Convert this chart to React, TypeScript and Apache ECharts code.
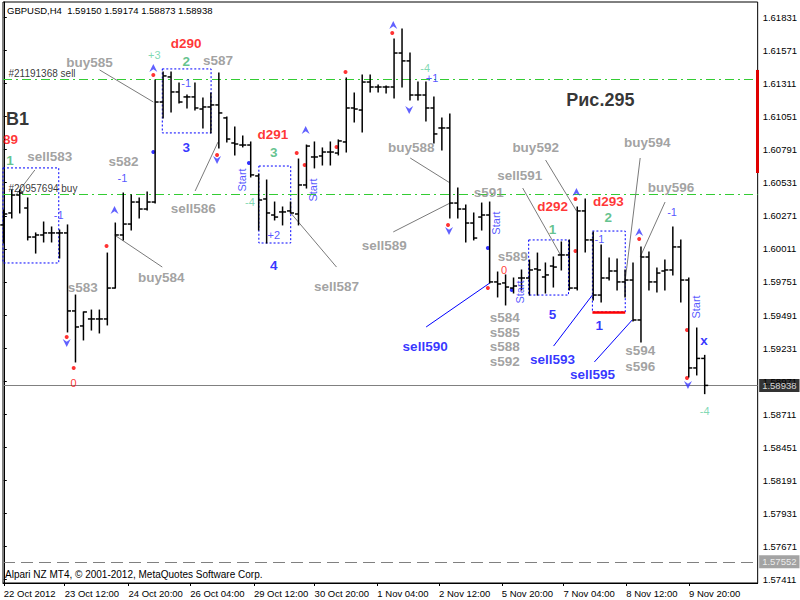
import React, { useEffect, useRef } from "react";
import * as echarts from "echarts";

// ---- OHLC bars (GBPUSD, H4) ----
const opens = [
  1.60199, 1.60293, 1.60434, 1.60332, 1.60104, 1.6012, 1.60136, 1.60136, 1.60136, 1.59523,
  1.59405, 1.5946, 1.5946, 1.5946, 1.59703, 1.6012, 1.60206, 1.60379, 1.60324, 1.60379,
  1.61165, 1.61362, 1.61244, 1.61205, 1.61205, 1.6111, 1.61126, 1.61142, 1.6104, 1.60843,
  1.60827, 1.60827, 1.60584, 1.60403, 1.60277, 1.60301, 1.60309, 1.60285, 1.60513, 1.60733,
  1.60741, 1.60772, 1.60764, 1.60851, 1.61118, 1.61102, 1.61322, 1.61283, 1.61283, 1.61283,
  1.6155, 1.61488, 1.6122, 1.6122, 1.61118, 1.60961, 1.60961, 1.60371, 1.60324, 1.60214,
  1.60261, 1.60277, 1.59751, 1.59743, 1.59703, 1.59782, 1.59782, 1.59853, 1.5979, 1.59876,
  1.59963, 1.59963, 1.59703, 1.60309, 1.60081, 1.59648, 1.59782, 1.59837, 1.59751, 1.59766,
  1.59452, 1.59947, 1.59751, 1.59837, 1.59845, 1.60026, 1.59766, 1.59075, 1.5915,
];
const highs = [
  1.60316, 1.60474, 1.60474, 1.60411, 1.60136, 1.60222, 1.60183, 1.60159, 1.60199, 1.59648,
  1.59515, 1.5953, 1.5953, 1.59978, 1.60214, 1.6045, 1.60434, 1.60411, 1.60458, 1.61338,
  1.61401, 1.61401, 1.61315, 1.6122, 1.61315, 1.61197, 1.61236, 1.61393, 1.61047, 1.60969,
  1.60898, 1.60851, 1.60599, 1.60552, 1.60379, 1.6034, 1.60379, 1.60717, 1.60827, 1.60851,
  1.60804, 1.60851, 1.60867, 1.61354, 1.61236, 1.61377, 1.61377, 1.61299, 1.61291, 1.6166,
  1.61739, 1.6155, 1.61322, 1.61322, 1.61205, 1.6104, 1.61071, 1.60489, 1.60356, 1.60293,
  1.60371, 1.60379, 1.59829, 1.59806, 1.59782, 1.59845, 1.59923, 1.59978, 1.599, 1.59947,
  1.60065, 1.60081, 1.6034, 1.60403, 1.60144, 1.60041, 1.59939, 1.59931, 1.59845, 1.599,
  1.60026, 1.59986, 1.59861, 1.59923, 1.60183, 1.60081, 1.59782, 1.59389, 1.59174,
];
const lows = [
  1.60057, 1.60254, 1.60293, 1.60081, 1.59978, 1.60065, 1.60065, 1.59939, 1.59358, 1.59122,
  1.59295, 1.59373, 1.5935, 1.59413, 1.59703, 1.60081, 1.60159, 1.60254, 1.60316, 1.60371,
  1.6104, 1.61087, 1.61157, 1.61118, 1.61102, 1.60961, 1.60922, 1.60804, 1.60851, 1.60749,
  1.60812, 1.60576, 1.60159, 1.60057, 1.60238, 1.60199, 1.60293, 1.60199, 1.60489, 1.60647,
  1.6067, 1.6067, 1.60749, 1.60772, 1.61008, 1.60929, 1.61244, 1.61244, 1.61236, 1.61197,
  1.61283, 1.61181, 1.61181, 1.61016, 1.60843, 1.60788, 1.60254, 1.60254, 1.60065, 1.60081,
  1.60159, 1.59743, 1.59633, 1.5957, 1.59664, 1.59688, 1.59648, 1.59648, 1.59664, 1.59711,
  1.59845, 1.59688, 1.59688, 1.59986, 1.59609, 1.59593, 1.59766, 1.59688, 1.59633, 1.59444,
  1.59279, 1.59688, 1.59672, 1.59688, 1.59806, 1.59593, 1.59004, 1.5902, 1.58873,
];
const closes = [
  1.60285, 1.60434, 1.6045, 1.60104, 1.6012, 1.60136, 1.60136, 1.60136, 1.59523, 1.59397,
  1.59515, 1.5946, 1.5946, 1.59703, 1.6012, 1.60206, 1.60379, 1.60324, 1.60379, 1.61165,
  1.6137, 1.61244, 1.61165, 1.61205, 1.61118, 1.61126, 1.61142, 1.61079, 1.60874, 1.60835,
  1.60827, 1.60592, 1.60395, 1.60293, 1.60261, 1.60301, 1.60293, 1.60513, 1.60819, 1.60733,
  1.60772, 1.60772, 1.60859, 1.61118, 1.6111, 1.61322, 1.61283, 1.61283, 1.61283, 1.6155,
  1.61488, 1.6122, 1.6122, 1.61118, 1.60914, 1.60961, 1.60371, 1.60324, 1.60214, 1.60096,
  1.60277, 1.59751, 1.59735, 1.59711, 1.59719, 1.59782, 1.59845, 1.59845, 1.59806, 1.59868,
  1.59963, 1.59703, 1.60309, 1.60081, 1.59648, 1.59782, 1.59837, 1.59751, 1.59766, 1.59452,
  1.59947, 1.59751, 1.59821, 1.59845, 1.60026, 1.59766, 1.59075, 1.5915, 1.58938,
];

// ---- axes ----
const timeLabels = [
  "22 Oct 2012", "23 Oct 12:00", "24 Oct 20:00", "26 Oct 04:00", "29 Oct 12:00", "30 Oct 20:00",
  "1 Nov 04:00", "2 Nov 12:00", "5 Nov 20:00", "7 Nov 04:00", "8 Nov 12:00", "9 Nov 20:00",
];
const timeTickBars = [0, 7.65, 15.65, 23.4, 31.4, 39.025, 46.9, 54.65, 62.525, 70.275, 78.15, 86.025];
const priceTicks = [
  1.61831, 1.61571, 1.61311, 1.61051, 1.60791, 1.60531, 1.60271, 1.60011, 1.59751, 1.59491,
  1.59231, 1.58971, 1.58711, 1.58451, 1.58191, 1.57931, 1.57671, 1.57411,
];
const X_MIN = -0.1;
const X_MAX = 94.65;
const headerText = "GBPUSD,H4  1.59150 1.59174 1.58873 1.58938";
const footerText = "Alpari NZ MT4, © 2001-2012, MetaQuotes Software Corp.";
const currentPrice = 1.58938;
const lowLevel = 1.57552;
const orderLevels = [1.61346, 1.60442];

// ---- markers ----
const redDotBars = [18.775, 26.775, 36.775, 37.775, 41.775, 42.9, 48.775, 12.9, 7.9, 8.775, 55.775, 60.775, 71.775, 71.775, 79.775, 85.775, 85.775];
const redDotPrices = [1.61377, 1.60749, 1.60764, 1.6067, 1.60812, 1.61401, 1.61708, 1.60033, 1.59318, 1.59075, 1.60199, 1.59703, 1.60403, 1.59994, 1.60088, 1.59373, 1.58996];
const blueDotBars = [18.775, 30.775, 60.775, 63.775];
const blueDotPrices = [1.60772, 1.60686, 1.60018, 1.59688];
const upArrowBars = [18.775, 37.9, 48.9, 13.9, 71.9, 79.775];
const upArrowPrices = [1.61432, 1.60945, 1.6177, 1.60316, 1.60458, 1.60144];
const downArrowBars = [26.775, 50.9, 7.9, 55.9, 85.9];
const downArrowPrices = [1.60709, 1.61102, 1.59271, 1.60151, 1.58941];

// annotations: [bar position, price, text, kind]
const annotations: [number, number, string, string][] = [
  [74.9, 1.61181, "Рис.295", "big"],
  [1.71, 1.61032, "B1", "big"],
  [0.84, 1.60867, "89", "red"],
  [0.775, 1.60702, "1", "green"],
  [5.775, 1.60733, "sell583", "gray"],
  [0.525, 1.60489, "#20957694 buy", "note"],
  [0.525, 1.61393, "#21191368 sell", "note"],
  [15.025, 1.60694, "s582", "gray"],
  [14.9, 1.60568, "-1", "blueSm"],
  [6.9, 1.60277, "-1", "blueSm"],
  [10.775, 1.61472, "buy585", "gray"],
  [18.9, 1.61535, "+3", "aqua"],
  [22.9, 1.61621, "d290", "red"],
  [22.9, 1.6148, "2", "green"],
  [26.9, 1.61495, "s587", "gray"],
  [22.9, 1.61315, "-1", "blueSm"],
  [22.9, 1.60804, "3", "blue"],
  [23.775, 1.60332, "sell586", "gray"],
  [33.775, 1.60906, "d291", "red"],
  [33.9, 1.60772, "3", "green"],
  [29.9, 1.60552, "Start", "start"],
  [38.775, 1.60474, "Start", "start"],
  [30.9, 1.60379, "-4", "aqua"],
  [33.9, 1.6012, "+2", "blueSm"],
  [33.9, 1.59884, "4", "blue"],
  [41.775, 1.59719, "sell587", "gray"],
  [19.775, 1.59782, "buy584", "gray"],
  [9.9, 1.59711, "s583", "gray"],
  [8.775, 1.58957, "0", "redSm"],
  [51.15, 1.60804, "buy588", "gray"],
  [52.9, 1.61432, "-4", "aqua"],
  [53.775, 1.61354, "+1", "blueSm"],
  [47.775, 1.60041, "sell589", "gray"],
  [60.9, 1.6045, "s591", "gray"],
  [64.775, 1.60584, "sell591", "gray"],
  [66.775, 1.60804, "buy592", "gray"],
  [80.775, 1.60843, "buy594", "gray"],
  [83.775, 1.60497, "buy596", "gray"],
  [68.9, 1.6034, "d292", "red"],
  [75.9, 1.60387, "d293", "red"],
  [68.9, 1.60167, "1", "green"],
  [75.9, 1.60261, "2", "green"],
  [74.775, 1.60088, "-1", "blueSm"],
  [83.9, 1.60301, "-1", "blueSm"],
  [61.775, 1.60214, "Start", "start"],
  [64.775, 1.59672, "Start", "start"],
  [86.9, 1.59554, "Start", "start"],
  [63.9, 1.59947, "s589", "gray"],
  [62.8, 1.59845, "0", "redSm"],
  [62.9, 1.59468, "s584", "gray"],
  [62.9, 1.5935, "s585", "gray"],
  [62.9, 1.5924, "s588", "gray"],
  [62.9, 1.59122, "s592", "gray"],
  [68.9, 1.59499, "5", "blue"],
  [74.775, 1.59405, "1", "blue"],
  [52.9, 1.59247, "sell590", "blue"],
  [68.9, 1.59145, "sell593", "blue"],
  [73.9, 1.59027, "sell595", "blue"],
  [79.9, 1.59212, "s594", "gray"],
  [79.9, 1.5909, "s596", "gray"],
  [87.9, 1.59287, "x", "blue"],
  [88.0, 1.58737, "-4", "aqua"],
];

// connector lines: [bar1, price1, bar2, price2]
const grayConnectors: [number, number, number, number][] = [
  [12.025, 1.61417, 18.775, 1.61165],
  [3.9, 1.60631, 1.525, 1.60434],
  [24.025, 1.60466, 26.9, 1.60851],
  [13.9, 1.6012, 19.9, 1.59868],
  [36.025, 1.60293, 41.775, 1.59868],
  [51.025, 1.60725, 56.025, 1.60529],
  [48.9, 1.60144, 56.025, 1.60371],
  [65.15, 1.60489, 69.9, 1.59963],
  [68.025, 1.60709, 71.9, 1.60309],
  [79.9, 1.60725, 78.025, 1.59766],
  [83.025, 1.60379, 79.9, 1.59947],
];
const blueConnectors: [number, number, number, number][] = [
  [53.025, 1.59397, 61.025, 1.59743],
  [69.025, 1.59247, 73.9, 1.59648],
  [74.15, 1.59122, 78.9, 1.59452],
];
// dotted boxes: [bar1, price1, bar2, price2]
const boxes: [number, number, number, number][] = [
  [-0.1, 1.60647, 6.9, 1.599],
  [19.9, 1.61425, 26.025, 1.60922],
  [32.025, 1.60662, 36.025, 1.60057],
  [65.9, 1.60081, 70.9, 1.59648],
  [73.9, 1.60151, 78.025, 1.59515],
];
const redSegment: [number, number, number, number] = [73.9, 1.59515, 78.025, 1.59515];
const spreadBar: [number, number, number, number] = [94.6, 1.61417, 94.6, 1.60607];

const FONT = "'Liberation Sans', Arial, sans-serif";

const kindStyles: Record<string, any> = {
  gray: { color: "#8a8a8a", fontSize: 13.5, fontWeight: "bold" },
  red: { color: "#ff0000", fontSize: 13.5, fontWeight: "bold" },
  green: { color: "#3cb371", fontSize: 13.5, fontWeight: "bold" },
  blue: { color: "#0000ff", fontSize: 13.5, fontWeight: "bold" },
  blueSm: { color: "#2a2aff", fontSize: 11 },
  aqua: { color: "#5fcf9f", fontSize: 11 },
  redSm: { color: "#ff0000", fontSize: 11 },
  note: { color: "#000000", fontSize: 10, position: "right", distance: 0, align: "left" },
  start: { color: "#2a2aff", fontSize: 11, rotate: 90 },
  big: { color: "#000000", fontSize: 18, fontWeight: "bold" },
};

const ARROW = "path://M5,0 L10,10 L5,6.5 L0,10 Z";

export default function App() {
  const ref = useRef<HTMLDivElement>(null);
  useEffect(() => {
    document.body.style.margin = "0";
    if (!ref.current) return;
    const chart = echarts.init(ref.current, undefined, { renderer: "svg" });
    const barData = opens.map((o, i) => [i, o, highs[i], lows[i], closes[i]]);

    const annData = annotations.map(([x, y, text, kind]) => {
      const st = kindStyles[kind];
      return {
        value: [x, y],
        label: {
          show: true,
          formatter: text,
          position: st.position || "inside",
          distance: st.distance ?? 0,
          align: st.align || "center",
          verticalAlign: "middle",
          color: st.color,
          fontSize: st.fontSize,
          fontWeight: st.fontWeight || "normal",
          fontFamily: FONT,
          rotate: st.rotate || 0,
        },
      };
    });

    const lineItems = (arr: [number, number, number, number][]) =>
      arr.map(([x1, y1, x2, y2]) => ({ coords: [[x1, y1], [x2, y2]] }));
    const hLine = (p: number) => ({ coords: [[X_MIN, p], [X_MAX, p]] });

    const priceBox = (v: number, bg: string) => ({
      value: [X_MAX, v],
      label: {
        show: true,
        position: "right",
        distance: 1,
        formatter: v.toFixed(5),
        backgroundColor: bg,
        color: "#fff",
        fontSize: 9.5,
        fontFamily: FONT,
        padding: [2, 3, 1, 3],
      },
    });

    const option: any = {
      animation: false,
      backgroundColor: "#ffffff",
      grid: { left: 3, top: 2, right: 39, bottom: 17, show: true, borderColor: "#000", borderWidth: 1, backgroundColor: "#fff" },
      graphic: [
        { type: "text", left: 7, top: 5, style: { text: headerText, fontSize: 9.5, fontFamily: FONT, fill: "#000" } },
        { type: "text", left: 5, top: 569, style: { text: footerText, fontSize: 10, fontFamily: FONT, fill: "#000" } },
      ],
      xAxis: {
        type: "value",
        min: X_MIN,
        max: X_MAX,
        splitLine: { show: false },
        axisLine: { show: true, lineStyle: { color: "#000" } },
        axisTick: { show: true, length: 3, customValues: timeTickBars, lineStyle: { color: "#000" } },
        axisLabel: {
          customValues: timeTickBars,
          align: "left",
          margin: 5,
          fontSize: 9.5,
          fontFamily: FONT,
          color: "#000",
          formatter: (v: number) => {
            const k = timeTickBars.findIndex((p) => Math.abs(p - v) < 1e-6);
            return k >= 0 ? timeLabels[k] : "";
          },
        },
      },
      yAxis: {
        type: "value",
        position: "right",
        min: 1.57385,
        max: 1.61951,
        splitLine: { show: false },
        axisLine: { show: true, lineStyle: { color: "#000" } },
        axisTick: { show: true, length: 3, customValues: priceTicks, lineStyle: { color: "#000" } },
        axisLabel: {
          customValues: priceTicks,
          margin: 5,
          fontSize: 9.5,
          fontFamily: FONT,
          color: "#000",
          formatter: (v: number) => v.toFixed(5),
        },
      },
      series: [
        {
          type: "lines",
          coordinateSystem: "cartesian2d",
          silent: true,
          z: 1,
          lineStyle: { color: "#33cc33", width: 1, opacity: 1, type: [9, 4, 2, 4] },
          data: orderLevels.map(hLine),
        },
        {
          type: "lines",
          coordinateSystem: "cartesian2d",
          silent: true,
          z: 1,
          lineStyle: { color: "#808080", width: 1, opacity: 1 },
          data: [hLine(currentPrice)],
        },
        {
          type: "lines",
          coordinateSystem: "cartesian2d",
          silent: true,
          z: 1,
          lineStyle: { color: "#808080", width: 1, opacity: 1, type: [12, 6] },
          data: [hLine(lowLevel)],
        },
        {
          type: "custom",
          name: "bars",
          data: barData,
          encode: { x: 0, y: [1, 2, 3, 4] },
          z: 3,
          renderItem: (params: any, api: any) => {
            const i = api.value(0);
            const o = api.coord([i, api.value(1)]);
            const h = api.coord([i, api.value(2)]);
            const l = api.coord([i, api.value(3)]);
            const c = api.coord([i, api.value(4)]);
            const x = o[0];
            const style = { stroke: "#000", lineWidth: 1.5 };
            return {
              type: "group",
              children: [
                { type: "line", shape: { x1: x, y1: h[1] - 0.5, x2: x, y2: l[1] + 0.5 }, style },
                { type: "line", shape: { x1: x - 3.5, y1: o[1], x2: x, y2: o[1] }, style },
                { type: "line", shape: { x1: x, y1: c[1], x2: x + 3.5, y2: c[1] }, style },
              ],
            };
          },
          markArea: {
            silent: true,
            itemStyle: { color: "rgba(0,0,0,0)", borderColor: "#0000ff", borderWidth: 1, borderType: [2, 2] },
            data: boxes.map(([x1, y1, x2, y2]) => [{ coord: [x1, y1] }, { coord: [x2, y2] }]),
          },
        },
        {
          type: "lines",
          coordinateSystem: "cartesian2d",
          silent: true,
          lineStyle: { color: "#7a7a7a", width: 1, opacity: 1 },
          data: lineItems(grayConnectors),
        },
        {
          type: "lines",
          coordinateSystem: "cartesian2d",
          silent: true,
          lineStyle: { color: "#0000ff", width: 1, opacity: 1 },
          data: lineItems(blueConnectors),
        },
        {
          type: "lines",
          coordinateSystem: "cartesian2d",
          silent: true,
          lineStyle: { color: "#ff0000", width: 2.5, opacity: 1 },
          data: lineItems([redSegment]),
        },
        {
          type: "lines",
          coordinateSystem: "cartesian2d",
          silent: true,
          clip: false,
          lineStyle: { color: "#e00000", width: 3, opacity: 1 },
          data: lineItems([spreadBar]),
        },
        {
          type: "scatter",
          symbol: "circle",
          symbolSize: 4,
          itemStyle: { color: "#ff0000" },
          data: redDotBars.map((x, i) => [x, redDotPrices[i]]),
        },
        {
          type: "scatter",
          symbol: "circle",
          symbolSize: 4,
          itemStyle: { color: "#0000ff" },
          data: blueDotBars.map((x, i) => [x, blueDotPrices[i]]),
        },
        {
          type: "scatter",
          symbol: ARROW,
          symbolSize: [8, 8],
          itemStyle: { color: "#3a3aff" },
          data: upArrowBars.map((x, i) => [x, upArrowPrices[i]]),
        },
        {
          type: "scatter",
          symbol: ARROW,
          symbolSize: [8, 8],
          symbolRotate: 180,
          itemStyle: { color: "#3a3aff" },
          data: downArrowBars.map((x, i) => [x, downArrowPrices[i]]),
        },
        {
          type: "scatter",
          symbol: "circle",
          symbolSize: 1,
          itemStyle: { color: "rgba(0,0,0,0)" },
          z: 5,
          data: annData,
        },
        {
          type: "scatter",
          symbol: "circle",
          symbolSize: 1,
          clip: false,
          itemStyle: { color: "rgba(0,0,0,0)" },
          z: 6,
          data: [priceBox(currentPrice, "#000"), priceBox(lowLevel, "#8c8c8c")],
        },
      ],
    };
    chart.setOption(option);
    return () => chart.dispose();
  }, []);
  return <div ref={ref} style={{ width: 800, height: 600 }} />;
}
